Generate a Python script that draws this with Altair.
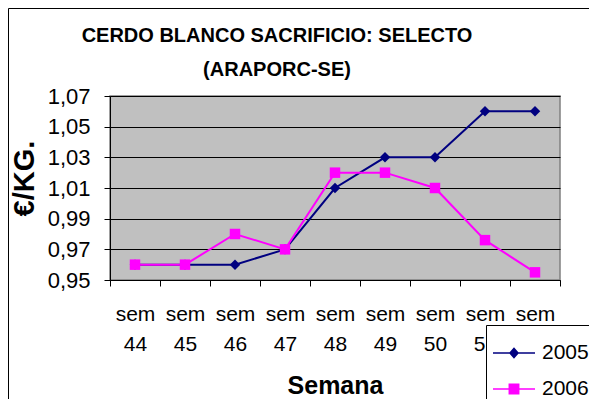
import altair as alt
import pandas as pd

weeks = ["sem 44", "sem 45", "sem 46", "sem 47", "sem 48", "sem 49", "sem 50", "sem 51", "sem 52"]
v2005 = [0.96, 0.96, 0.96, 0.97, 1.01, 1.03, 1.03, 1.06, 1.06]
v2006 = [0.96, 0.96, 0.98, 0.97, 1.02, 1.02, 1.01, 0.976, 0.955]
series = ["2005", "2006"]
colors = ["#000080", "#FF00FF"]
yticks = [0.95, 0.97, 0.99, 1.01, 1.03, 1.05, 1.07]
title_lines = ["CERDO BLANCO SACRIFICIO: SELECTO", "(ARAPORC-SE)"]

rows = []
for s, vals in zip(series, [v2005, v2006]):
    for w, v in zip(weeks, vals):
        rows.append({"week": w, "series": s, "value": v})
df = pd.DataFrame(rows)

FONT = "Liberation Sans"

x = alt.X("week:N", sort=weeks,
          scale=alt.Scale(type="band", paddingInner=0, paddingOuter=0),
          axis=alt.Axis(title="Semana", tickBand="extent", labelAngle=0,
                        labelExpr="split(datum.label, ' ')",
                        labelLineHeight=30, labelBaseline="top", labelPadding=17,
                        titleX=225, titleY=113, titleBaseline="alphabetic",
                        titleAlign="center", titleFontSize=25, grid=False))
y = alt.Y("value:Q", scale=alt.Scale(domain=[0.95, 1.07], nice=False, zero=False),
          axis=alt.Axis(values=yticks, title="€/KG.",
                        labelExpr="replace(format(datum.value, '.2f'), '.', ',')",
                        labelPadding=14, labelFontSize=22, titleFontSize=29, titleAngle=270,
                        titleX=-77, titleY=82, titleBaseline="alphabetic",
                        titleAlign="center", grid=True))

is2005 = "datum.series == '2005'"
col_cond = alt.condition(is2005, alt.value(colors[0]), alt.value(colors[1]))

base = alt.Chart(df)
lines = base.mark_line(strokeWidth=2).encode(x=x, y=y, color=col_cond, detail="series:N")
points = base.mark_point(filled=True, opacity=1, size=110).encode(
    x=x, y=y, color=col_cond,
    shape=alt.condition(is2005, alt.value("diamond"), alt.value("square")))

paths = [
    "M-1,-0.03L1,-0.03L1,0.03L-1,0.03Z M0,-0.27L0.24,0L0,0.27L-0.24,0Z",
    "M-1,-0.03L1,-0.03L1,0.03L-1,0.03Z M-0.26,-0.26L0.26,-0.26L0.26,0.26L-0.26,0.26Z",
]
legend_layer = base.mark_point(filled=True, opacity=1).encode(
    x=x, y=y,
    color=alt.Color("series:N", scale=alt.Scale(domain=series, range=colors), title=None),
    shape=alt.Shape("series:N", scale=alt.Scale(domain=series, range=paths), title=None),
).transform_filter("false")

border = alt.Chart(alt.Data(values=[{}])).mark_rule(color="black", strokeWidth=1).encode(
    x=alt.value(-101.5), y=alt.value(-87.5), y2=alt.value(320))
border_top = alt.Chart(alt.Data(values=[{}])).mark_rule(color="black", strokeWidth=1).encode(
    x=alt.value(-101.5), x2=alt.value(500), y=alt.value(-87.5))

chart = alt.layer(border, border_top, lines, points, legend_layer).properties(
    width=450, height=184,
    padding={"left": 102, "top": 88, "right": 29, "bottom": 119},
    autosize=alt.AutoSizeParams(type="none"),
    background="white",
    title=alt.TitleParams(title_lines, font=FONT, fontSize=20, fontWeight="bold",
                          color="black", anchor="middle", dx=-58, lineHeight=34,
                          baseline="alphabetic", offset=-88),
).configure_view(
    fill="#C0C0C0", stroke="#808080", strokeWidth=1.5
).configure_axis(
    labelFont=FONT, titleFont=FONT, labelFontSize=21, labelColor="black",
    titleColor="black", titleFontWeight="bold", domainColor="black", tickColor="black",
    gridColor="black", gridWidth=1, domainWidth=1, tickWidth=1, tickSize=6,
    gridOpacity=1, domainOpacity=1
).configure_legend(
    orient="none", legendX=376, legendY=229, strokeColor="black", fillColor="white",
    padding=7, symbolSize=1764, symbolStrokeWidth=0, labelFont=FONT, labelFontSize=21,
    labelColor="black", labelOffset=7, rowPadding=5
)

chart.save("out.html", embed_options={"renderer": "svg", "actions": False})
